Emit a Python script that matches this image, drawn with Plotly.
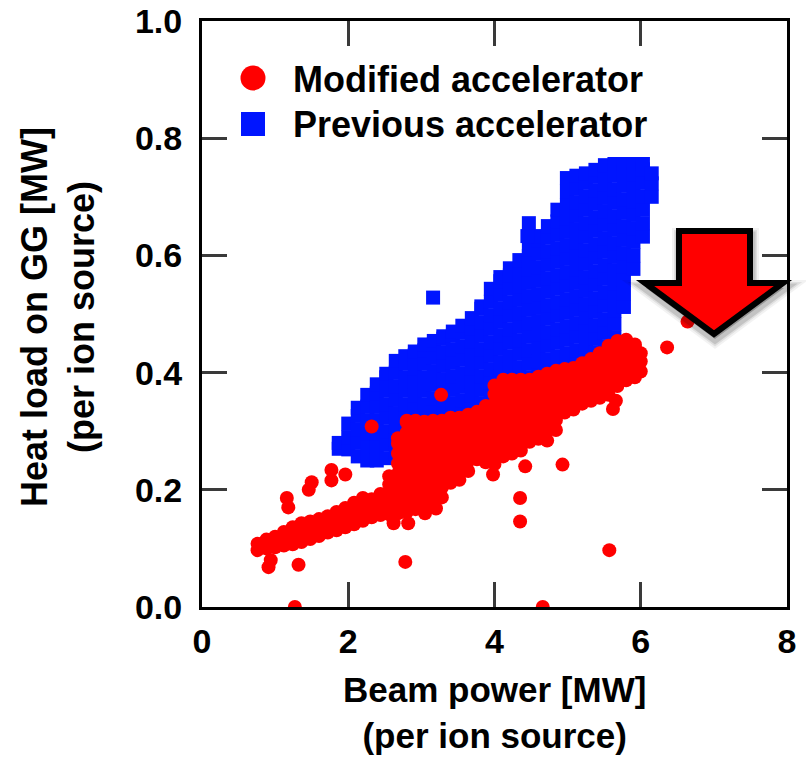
import plotly.graph_objects as go

# ---- data: heat load on the grounded grid vs beam power (per ion source) ----
# Previous accelerator: dense cloud, listed column by column (x, then the y values in that column)
prev_col_x = [1.87, 2.00, 2.13, 2.26, 2.39, 2.52, 2.65, 2.78, 2.91, 3.04,
              3.17, 3.30, 3.43, 3.56, 3.69, 3.82, 3.95, 4.08, 4.21, 4.34,
              4.47, 4.60, 4.73, 4.86, 4.99, 5.12, 5.25, 5.38, 5.51, 5.64,
              5.77, 5.90, 6.03, 6.15]
prev_col_y = [
    [0.270, 0.280],
    [0.269, 0.290, 0.313],
    [0.257, 0.280, 0.303, 0.326, 0.340],
    [0.250, 0.273, 0.296, 0.319, 0.342, 0.362],
    [0.250, 0.273, 0.296, 0.319, 0.342, 0.365, 0.380],
    [0.254, 0.277, 0.300, 0.323, 0.346, 0.369, 0.392, 0.398],
    [0.262, 0.285, 0.308, 0.331, 0.354, 0.377, 0.400, 0.420],
    [0.277, 0.300, 0.323, 0.346, 0.369, 0.392, 0.415, 0.428],
    [0.292, 0.315, 0.338, 0.361, 0.384, 0.407, 0.430, 0.436],
    [0.300, 0.323, 0.346, 0.369, 0.392, 0.415, 0.438, 0.448],
    [0.310, 0.333, 0.356, 0.379, 0.402, 0.425, 0.448, 0.454],
    [0.320, 0.343, 0.366, 0.389, 0.412, 0.435, 0.458, 0.462],
    [0.325, 0.348, 0.371, 0.394, 0.417, 0.440, 0.463, 0.470],
    [0.330, 0.353, 0.376, 0.399, 0.422, 0.445, 0.468, 0.480],
    [0.338, 0.361, 0.384, 0.407, 0.430, 0.453, 0.476, 0.493],
    [0.348, 0.371, 0.394, 0.417, 0.440, 0.463, 0.486, 0.509, 0.513],
    [0.360, 0.383, 0.406, 0.429, 0.452, 0.475, 0.498, 0.521, 0.543],
    [0.372, 0.395, 0.418, 0.441, 0.464, 0.487, 0.510, 0.533, 0.556, 0.563],
    [0.382, 0.405, 0.428, 0.451, 0.474, 0.497, 0.520, 0.543, 0.566, 0.578],
    [0.386, 0.409, 0.432, 0.455, 0.478, 0.501, 0.524, 0.547, 0.570, 0.592],
    [0.392, 0.415, 0.438, 0.461, 0.484, 0.507, 0.530, 0.553, 0.576, 0.599, 0.610],
    [0.396, 0.419, 0.442, 0.465, 0.488, 0.511, 0.534, 0.557, 0.580, 0.603, 0.626, 0.633],
    [0.400, 0.423, 0.446, 0.469, 0.492, 0.515, 0.538, 0.561, 0.584, 0.607, 0.630, 0.650],
    [0.405, 0.428, 0.451, 0.474, 0.497, 0.520, 0.543, 0.566, 0.589, 0.612, 0.635, 0.658, 0.678],
    [0.410, 0.433, 0.456, 0.479, 0.502, 0.525, 0.548, 0.571, 0.594, 0.617, 0.640, 0.663, 0.686, 0.709, 0.732],
    [0.415, 0.438, 0.461, 0.484, 0.507, 0.530, 0.553, 0.576, 0.599, 0.622, 0.645, 0.668, 0.691, 0.714, 0.736],
    [0.425, 0.448, 0.471, 0.494, 0.517, 0.540, 0.563, 0.586, 0.609, 0.632, 0.655, 0.678, 0.701, 0.724, 0.740],
    [0.435, 0.458, 0.481, 0.504, 0.527, 0.550, 0.573, 0.596, 0.619, 0.642, 0.665, 0.688, 0.711, 0.734, 0.746],
    [0.445, 0.468, 0.491, 0.514, 0.537, 0.560, 0.583, 0.606, 0.629, 0.652, 0.675, 0.698, 0.721, 0.744, 0.754],
    [0.460, 0.483, 0.506, 0.529, 0.552, 0.575, 0.598, 0.621, 0.644, 0.667, 0.690, 0.713, 0.736, 0.756],
    [0.512, 0.535, 0.558, 0.581, 0.604, 0.627, 0.650, 0.673, 0.696, 0.719, 0.742, 0.756],
    [0.577, 0.600, 0.623, 0.646, 0.669, 0.692, 0.715, 0.738, 0.756],
    [0.632, 0.655, 0.678, 0.701, 0.724, 0.747, 0.756],
    [0.700, 0.723, 0.740],
]
prev_extra_x = [3.16, 4.47, 4.45]
prev_extra_y = [0.528, 0.655, 0.633]

# Modified accelerator: main band, column by column
mod_col_x = [0.76, 0.88, 1.00, 1.12, 1.24, 1.36, 1.48, 1.60, 1.72, 1.84,
             1.96, 2.08, 2.20, 2.32, 2.44, 2.56, 2.68, 2.80, 2.92, 3.04,
             3.16, 3.28, 3.40, 3.52, 3.64, 3.76, 3.88, 4.00, 4.12, 4.24,
             4.36, 4.48, 4.60, 4.72, 4.84, 4.96, 5.08, 5.20, 5.32, 5.44,
             5.56, 5.68, 5.80, 5.92, 6.00]
mod_col_y = [
    [0.097, 0.108],
    [0.100, 0.115],
    [0.102, 0.120],
    [0.105, 0.122, 0.128],
    [0.107, 0.124, 0.136],
    [0.111, 0.128, 0.143],
    [0.116, 0.133, 0.146],
    [0.121, 0.138, 0.150],
    [0.127, 0.144, 0.155],
    [0.131, 0.148, 0.162],
    [0.136, 0.153, 0.169],
    [0.141, 0.158, 0.175, 0.178],
    [0.147, 0.164, 0.181, 0.186],
    [0.153, 0.170, 0.184],
    [0.157, 0.174, 0.191, 0.193],
    [0.158, 0.175, 0.192, 0.209, 0.223],
    [0.160, 0.177, 0.194, 0.211, 0.228, 0.245, 0.262, 0.279, 0.288],
    [0.162, 0.179, 0.196, 0.213, 0.230, 0.247, 0.264, 0.281, 0.298, 0.315, 0.318],
    [0.167, 0.184, 0.201, 0.218, 0.235, 0.252, 0.269, 0.286, 0.303, 0.318],
    [0.172, 0.189, 0.206, 0.223, 0.240, 0.257, 0.274, 0.291, 0.308, 0.316],
    [0.177, 0.194, 0.211, 0.228, 0.245, 0.262, 0.279, 0.296, 0.313, 0.318],
    [0.187, 0.204, 0.221, 0.238, 0.255, 0.272, 0.289, 0.306, 0.318],
    [0.212, 0.229, 0.246, 0.263, 0.280, 0.297, 0.314, 0.323],
    [0.217, 0.234, 0.251, 0.268, 0.285, 0.302, 0.319, 0.323],
    [0.232, 0.249, 0.266, 0.283, 0.300, 0.317, 0.328],
    [0.252, 0.269, 0.286, 0.303, 0.320, 0.333],
    [0.247, 0.264, 0.281, 0.298, 0.315, 0.332, 0.343],
    [0.244, 0.261, 0.278, 0.295, 0.312, 0.329, 0.346, 0.363, 0.378],
    [0.257, 0.274, 0.291, 0.308, 0.325, 0.342, 0.359, 0.376, 0.388],
    [0.262, 0.279, 0.296, 0.313, 0.330, 0.347, 0.364, 0.381, 0.388],
    [0.267, 0.284, 0.301, 0.318, 0.335, 0.352, 0.369, 0.386, 0.388],
    [0.282, 0.299, 0.316, 0.333, 0.350, 0.367, 0.384, 0.388],
    [0.287, 0.304, 0.321, 0.338, 0.355, 0.372, 0.389, 0.393],
    [0.284, 0.301, 0.318, 0.335, 0.352, 0.369, 0.386, 0.398],
    [0.302, 0.319, 0.336, 0.353, 0.370, 0.387, 0.403],
    [0.332, 0.349, 0.366, 0.383, 0.400, 0.406],
    [0.337, 0.354, 0.371, 0.388, 0.405, 0.408],
    [0.347, 0.364, 0.381, 0.398, 0.416],
    [0.352, 0.369, 0.386, 0.403, 0.420, 0.423],
    [0.357, 0.374, 0.391, 0.408, 0.425, 0.433],
    [0.362, 0.379, 0.396, 0.413, 0.430, 0.446],
    [0.377, 0.394, 0.411, 0.428, 0.445, 0.454],
    [0.387, 0.404, 0.421, 0.438, 0.456],
    [0.392, 0.409, 0.426, 0.443, 0.448],
    [0.402, 0.419, 0.433],
]
# Scattered shots away from the main band
mod_extra_x = [0.91, 0.94, 1.16, 1.18, 1.32, 1.46, 1.50, 1.77, 1.77, 1.96,
               2.32, 2.62, 2.78, 2.82, 3.05, 3.20, 3.27, 3.98, 4.35, 4.35,
               4.42, 4.93, 5.57, 5.62, 5.66, 6.36, 6.64, 1.27, 4.66]
mod_extra_y = [0.068, 0.080, 0.186, 0.170, 0.072, 0.200, 0.213, 0.234, 0.216, 0.226,
               0.308, 0.143, 0.077, 0.143, 0.160, 0.168, 0.362, 0.226, 0.186, 0.146,
               0.240, 0.243, 0.097, 0.338, 0.352, 0.443, 0.487, 0.000, 0.000]

x_ticks = [0, 2, 4, 6, 8]
y_ticks = [0.0, 0.2, 0.4, 0.6, 0.8, 1.0]
series_names = ["Modified accelerator", "Previous accelerator"]
x_title = "Beam power [MW]<br>(per ion source)"
y_title = "Heat load on GG [MW]<br>(per ion source)"

RED = "#ff0000"
BLUE = "#0015ff"
FONT = "Liberation Sans, Arial, sans-serif"

prev_x = [x for x, ys in zip(prev_col_x, prev_col_y) for _ in ys] + prev_extra_x
prev_y = [y for ys in prev_col_y for y in ys] + prev_extra_y
mod_x = [x for x, ys in zip(mod_col_x, mod_col_y) for _ in ys] + mod_extra_x
mod_y = [y for ys in mod_col_y for y in ys] + mod_extra_y

fig = go.Figure()
fig.add_trace(go.Scatter(x=prev_x, y=prev_y, mode="markers", name=series_names[1],
                         marker=dict(symbol="square", size=14, color=BLUE, line=dict(width=0)),
                         showlegend=False))
fig.add_trace(go.Scatter(x=mod_x, y=mod_y, mode="markers", name=series_names[0],
                         marker=dict(symbol="circle", size=14, color=RED, line=dict(width=0)),
                         showlegend=False))

# plot-area geometry in pixels (used for the overlay shapes)
L, R, T, B = 202, 787, 21, 607
W, H = R - L, B - T


def px(xp):
    return (xp - L) / W


def py(yp):
    return (B - yp) / H


# big "reduction" arrow drawn on top, with a soft shadow
arrow_pts = [(679, 231), (750, 231), (750, 283), (783, 283), (714, 334), (645, 283), (679, 283)]


def arrow_path(dx=0, dy=0):
    return "M " + " L ".join(f"{px(x + dx):.5f},{py(y + dy):.5f}" for x, y in arrow_pts) + " Z"


shapes = []
for w, a in [(16, 0.05), (12, 0.08), (9, 0.12)]:
    shapes.append(dict(type="path", xref="paper", yref="paper", path=arrow_path(1, 5),
                       fillcolor=f"rgba(0,0,0,{a})", line=dict(color=f"rgba(0,0,0,{a})", width=w),
                       layer="above"))
shapes.append(dict(type="path", xref="paper", yref="paper", path=arrow_path(),
                   fillcolor=RED, line=dict(color="black", width=6), layer="above"))

# legend symbols
leg_x = px(253)
shapes.append(dict(type="circle", xref="paper", yref="paper", xsizemode="pixel", ysizemode="pixel",
                   xanchor=leg_x, yanchor=py(78), x0=-12.5, x1=12.5, y0=-12.5, y1=12.5,
                   fillcolor=RED, line=dict(width=0), layer="above"))
shapes.append(dict(type="rect", xref="paper", yref="paper", xsizemode="pixel", ysizemode="pixel",
                   xanchor=leg_x, yanchor=py(124), x0=-12, x1=12, y0=-12, y1=12,
                   fillcolor=BLUE, line=dict(width=0), layer="above"))

annotations = [
    dict(text=series_names[0], xref="paper", yref="paper", x=px(291), y=py(79),
         xanchor="left", yanchor="middle", showarrow=False,
         font=dict(family=FONT, size=36, color="black", weight="bold")),
    dict(text=series_names[1], xref="paper", yref="paper", x=px(291), y=py(125),
         xanchor="left", yanchor="middle", showarrow=False,
         font=dict(family=FONT, size=36, color="black", weight="bold")),
    dict(text=x_title, xref="paper", yref="paper", x=0.5, y=py(712),
         xanchor="center", yanchor="middle", showarrow=False,
         font=dict(family=FONT, size=35, color="black", weight="bold")),
    dict(text=y_title, xref="paper", yref="paper", x=px(58), y=py(317), textangle=-90,
         xanchor="center", yanchor="middle", showarrow=False,
         font=dict(family=FONT, size=36, color="black", weight="bold")),
]

axis_common = dict(showgrid=False, zeroline=False, showline=True, linewidth=3, linecolor="black",
                   mirror="ticks", ticks="inside", ticklen=25, tickwidth=3, tickcolor="#3a3a3a",
                   tickfont=dict(family=FONT, size=34, color="black", weight="bold"),
                   automargin=False)

fig.update_layout(
    width=806, height=758, autosize=False,
    margin=dict(l=L, r=806 - R, t=T, b=758 - B),
    paper_bgcolor="white", plot_bgcolor="white",
    xaxis=dict(range=[0, 8], tickvals=x_ticks, ticktext=[str(v) for v in x_ticks],
               ticklabelstandoff=2, **axis_common),
    yaxis=dict(range=[0, 1.0], tickvals=y_ticks, ticktext=[f"{v:.1f}" for v in y_ticks],
               ticklabelstandoff=10, **axis_common),
    shapes=shapes, annotations=annotations, showlegend=False,
)

fig.write_html("out.html")
